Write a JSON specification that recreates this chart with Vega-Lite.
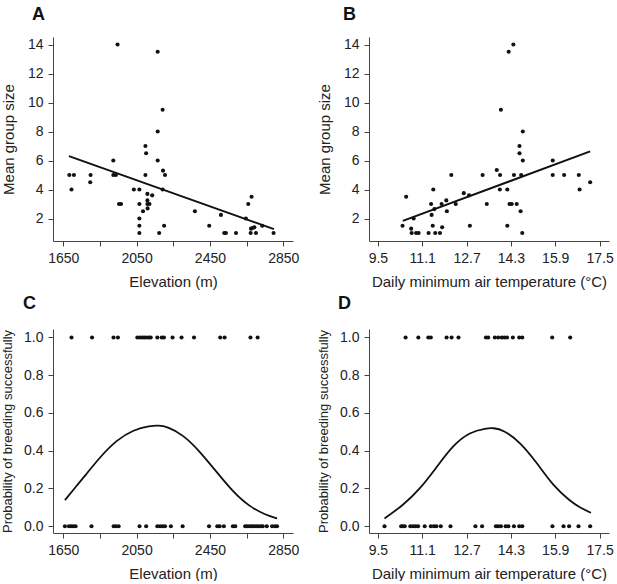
{
  "$schema": "https://vega.github.io/schema/vega-lite/v6.json",
  "padding": {"left": 1, "top": 6, "right": 0, "bottom": 0},
  "config": {
    "view": {"stroke": null},
    "font": "Liberation Sans",
    "axis": {
      "grid": false,
      "domainColor": "#444",
      "tickColor": "#444",
      "labelColor": "#222",
      "titleColor": "#222",
      "labelFont": "Liberation Sans",
      "titleFont": "Liberation Sans",
      "labelFontSize": 14,
      "titleFontSize": 15,
      "titleFontWeight": "normal",
      "tickSize": 5,
      "labelPadding": 5,
      "labelOverlap": false,
      "labelFlush": false
    },
    "axisY": {"minExtent": 32, "maxExtent": 32, "titlePadding": 5},
    "axisX": {"titlePadding": 9},
    "title": {"font": "Liberation Sans", "fontSize": 18, "fontWeight": "bold", "color": "#111", "anchor": "start", "frame": "group"}
  },
  "datasets": {
    "groupElev": [
      {"elevation": 1683, "size": 5}, {"elevation": 1708, "size": 5}, {"elevation": 1695, "size": 4},
      {"elevation": 1799, "size": 5}, {"elevation": 1797, "size": 4.5}, {"elevation": 1923, "size": 6},
      {"elevation": 1923, "size": 5}, {"elevation": 1937, "size": 5}, {"elevation": 1946, "size": 14},
      {"elevation": 1954, "size": 3}, {"elevation": 1965, "size": 3}, {"elevation": 2035, "size": 4},
      {"elevation": 2065, "size": 4}, {"elevation": 2065, "size": 3}, {"elevation": 2065, "size": 2},
      {"elevation": 2065, "size": 1.5}, {"elevation": 2065, "size": 1}, {"elevation": 2085, "size": 2.5},
      {"elevation": 2098, "size": 7}, {"elevation": 2102, "size": 6.5}, {"elevation": 2098, "size": 5},
      {"elevation": 2109, "size": 3.7}, {"elevation": 2109, "size": 3.25}, {"elevation": 2109, "size": 3},
      {"elevation": 2110, "size": 2.7}, {"elevation": 2120, "size": 3}, {"elevation": 2135, "size": 3.6},
      {"elevation": 2165, "size": 13.5}, {"elevation": 2165, "size": 8}, {"elevation": 2165, "size": 6},
      {"elevation": 2173, "size": 1}, {"elevation": 2192, "size": 9.5}, {"elevation": 2194, "size": 5.3},
      {"elevation": 2192, "size": 4}, {"elevation": 2200, "size": 1.5}, {"elevation": 2205, "size": 5},
      {"elevation": 2368, "size": 2.5}, {"elevation": 2446, "size": 1.5}, {"elevation": 2510, "size": 2.25},
      {"elevation": 2528, "size": 1}, {"elevation": 2537, "size": 1}, {"elevation": 2592, "size": 1},
      {"elevation": 2646, "size": 2}, {"elevation": 2659, "size": 3}, {"elevation": 2677, "size": 3.5},
      {"elevation": 2674, "size": 1.3}, {"elevation": 2672, "size": 1}, {"elevation": 2683, "size": 1.35},
      {"elevation": 2692, "size": 1.4}, {"elevation": 2701, "size": 1}, {"elevation": 2735, "size": 1.5},
      {"elevation": 2797, "size": 1}
    ],
    "lineElev": [
      {"elevation": 1681, "size": 6.3}, {"elevation": 2799, "size": 1.27}
    ],
    "groupTemp": [
      {"temperature": 10.39, "size": 1.5}, {"temperature": 10.52, "size": 3.5}, {"temperature": 10.70, "size": 1.3},
      {"temperature": 10.72, "size": 1}, {"temperature": 10.79, "size": 2}, {"temperature": 10.88, "size": 1},
      {"temperature": 10.97, "size": 1}, {"temperature": 11.33, "size": 1}, {"temperature": 11.42, "size": 3},
      {"temperature": 11.44, "size": 2.25}, {"temperature": 11.50, "size": 4}, {"temperature": 11.48, "size": 1.5},
      {"temperature": 11.54, "size": 2.65}, {"temperature": 11.57, "size": 1}, {"temperature": 11.74, "size": 1},
      {"temperature": 11.80, "size": 3}, {"temperature": 11.82, "size": 1.4}, {"temperature": 11.97, "size": 3.25},
      {"temperature": 11.99, "size": 2.5}, {"temperature": 12.15, "size": 5}, {"temperature": 12.31, "size": 3},
      {"temperature": 12.60, "size": 3.75}, {"temperature": 12.79, "size": 3.6}, {"temperature": 12.82, "size": 1.5},
      {"temperature": 13.28, "size": 5}, {"temperature": 13.43, "size": 3}, {"temperature": 13.79, "size": 5.35},
      {"temperature": 13.91, "size": 5}, {"temperature": 13.90, "size": 4}, {"temperature": 13.94, "size": 9.5},
      {"temperature": 14.17, "size": 4}, {"temperature": 14.17, "size": 1.5}, {"temperature": 14.22, "size": 13.5},
      {"temperature": 14.25, "size": 3}, {"temperature": 14.33, "size": 3}, {"temperature": 14.39, "size": 14},
      {"temperature": 14.41, "size": 5}, {"temperature": 14.51, "size": 3}, {"temperature": 14.61, "size": 7},
      {"temperature": 14.61, "size": 6.5}, {"temperature": 14.65, "size": 2.5}, {"temperature": 14.67, "size": 5},
      {"temperature": 14.73, "size": 8}, {"temperature": 14.73, "size": 6}, {"temperature": 14.71, "size": 1},
      {"temperature": 15.81, "size": 6}, {"temperature": 15.81, "size": 5}, {"temperature": 16.22, "size": 5},
      {"temperature": 16.75, "size": 5}, {"temperature": 16.78, "size": 4}, {"temperature": 17.16, "size": 4.5}
    ],
    "lineTemp": [
      {"temperature": 10.40, "size": 1.84}, {"temperature": 17.16, "size": 6.63}
    ],
    "breedElev": [
      {"elevation": 1695, "p": 1}, {"elevation": 1807, "p": 1}, {"elevation": 1924, "p": 1}, {"elevation": 1948, "p": 1},
      {"elevation": 2054, "p": 1}, {"elevation": 2069, "p": 1}, {"elevation": 2081, "p": 1}, {"elevation": 2092, "p": 1},
      {"elevation": 2105, "p": 1}, {"elevation": 2118, "p": 1}, {"elevation": 2127, "p": 1}, {"elevation": 2163, "p": 1},
      {"elevation": 2187, "p": 1}, {"elevation": 2199, "p": 1}, {"elevation": 2246, "p": 1}, {"elevation": 2295, "p": 1},
      {"elevation": 2363, "p": 1}, {"elevation": 2506, "p": 1}, {"elevation": 2530, "p": 1}, {"elevation": 2671, "p": 1},
      {"elevation": 2710, "p": 1},
      {"elevation": 1659, "p": 0}, {"elevation": 1681, "p": 0}, {"elevation": 1693, "p": 0}, {"elevation": 1704, "p": 0},
      {"elevation": 1717, "p": 0}, {"elevation": 1804, "p": 0}, {"elevation": 1925, "p": 0}, {"elevation": 1937, "p": 0},
      {"elevation": 1952, "p": 0}, {"elevation": 2066, "p": 0}, {"elevation": 2102, "p": 0}, {"elevation": 2163, "p": 0},
      {"elevation": 2178, "p": 0}, {"elevation": 2192, "p": 0}, {"elevation": 2205, "p": 0}, {"elevation": 2237, "p": 0},
      {"elevation": 2301, "p": 0}, {"elevation": 2445, "p": 0}, {"elevation": 2490, "p": 0}, {"elevation": 2503, "p": 0},
      {"elevation": 2526, "p": 0}, {"elevation": 2575, "p": 0}, {"elevation": 2588, "p": 0}, {"elevation": 2642, "p": 0},
      {"elevation": 2653, "p": 0}, {"elevation": 2666, "p": 0}, {"elevation": 2678, "p": 0}, {"elevation": 2689, "p": 0},
      {"elevation": 2702, "p": 0}, {"elevation": 2714, "p": 0}, {"elevation": 2728, "p": 0}, {"elevation": 2738, "p": 0},
      {"elevation": 2760, "p": 0}, {"elevation": 2789, "p": 0}, {"elevation": 2805, "p": 0}, {"elevation": 2816, "p": 0}
    ],
    "curveElev": [
      {"elevation": 1659, "p": 0.138}, {"elevation": 1726, "p": 0.218}, {"elevation": 1762, "p": 0.259},
      {"elevation": 1852, "p": 0.369}, {"elevation": 1943, "p": 0.458}, {"elevation": 2033, "p": 0.511},
      {"elevation": 2123, "p": 0.532}, {"elevation": 2170, "p": 0.534}, {"elevation": 2214, "p": 0.529},
      {"elevation": 2304, "p": 0.485}, {"elevation": 2395, "p": 0.396}, {"elevation": 2485, "p": 0.289},
      {"elevation": 2575, "p": 0.183}, {"elevation": 2666, "p": 0.103}, {"elevation": 2756, "p": 0.059},
      {"elevation": 2816, "p": 0.041}
    ],
    "breedTemp": [
      {"temperature": 10.50, "p": 1}, {"temperature": 10.96, "p": 1}, {"temperature": 11.32, "p": 1}, {"temperature": 11.41, "p": 1},
      {"temperature": 11.98, "p": 1}, {"temperature": 12.16, "p": 1}, {"temperature": 12.41, "p": 1}, {"temperature": 13.40, "p": 1},
      {"temperature": 13.48, "p": 1}, {"temperature": 13.72, "p": 1}, {"temperature": 13.84, "p": 1}, {"temperature": 13.97, "p": 1},
      {"temperature": 14.06, "p": 1}, {"temperature": 14.16, "p": 1}, {"temperature": 14.37, "p": 1}, {"temperature": 14.60, "p": 1},
      {"temperature": 14.71, "p": 1}, {"temperature": 15.79, "p": 1}, {"temperature": 16.44, "p": 1},
      {"temperature": 9.74, "p": 0}, {"temperature": 10.34, "p": 0}, {"temperature": 10.40, "p": 0}, {"temperature": 10.47, "p": 0},
      {"temperature": 10.67, "p": 0}, {"temperature": 10.77, "p": 0}, {"temperature": 10.86, "p": 0}, {"temperature": 10.95, "p": 0},
      {"temperature": 11.19, "p": 0}, {"temperature": 11.41, "p": 0}, {"temperature": 11.52, "p": 0}, {"temperature": 11.61, "p": 0},
      {"temperature": 11.77, "p": 0}, {"temperature": 12.12, "p": 0}, {"temperature": 13.02, "p": 0}, {"temperature": 13.26, "p": 0},
      {"temperature": 13.76, "p": 0}, {"temperature": 13.84, "p": 0}, {"temperature": 13.94, "p": 0}, {"temperature": 14.11, "p": 0},
      {"temperature": 14.21, "p": 0}, {"temperature": 14.41, "p": 0}, {"temperature": 14.60, "p": 0}, {"temperature": 14.71, "p": 0},
      {"temperature": 15.80, "p": 0}, {"temperature": 16.20, "p": 0}, {"temperature": 16.40, "p": 0}, {"temperature": 16.74, "p": 0},
      {"temperature": 17.16, "p": 0}
    ],
    "curveTemp": [
      {"temperature": 9.74, "p": 0.041}, {"temperature": 10.40, "p": 0.110}, {"temperature": 11.01, "p": 0.195},
      {"temperature": 11.61, "p": 0.311}, {"temperature": 12.21, "p": 0.430}, {"temperature": 12.82, "p": 0.500},
      {"temperature": 13.42, "p": 0.519}, {"temperature": 13.66, "p": 0.521}, {"temperature": 14.02, "p": 0.511},
      {"temperature": 14.63, "p": 0.447}, {"temperature": 15.23, "p": 0.337}, {"temperature": 15.83, "p": 0.213},
      {"temperature": 16.44, "p": 0.133}, {"temperature": 16.80, "p": 0.098}, {"temperature": 17.19, "p": 0.071}
    ]
  },
  "columns": 2,
  "spacing": {"row": 6, "column": 18},
  "concat": [
    {
      "title": {"text": "A", "dx": -21, "offset": 13},
      "width": 240,
      "height": 204,
      "layer": [
        {
          "data": {"name": "groupElev"},
          "mark": {"type": "circle", "size": 17, "opacity": 1, "color": "#111"},
          "encoding": {
            "x": {"field": "elevation", "type": "quantitative", "scale": {"domain": [1594, 2903], "nice": false, "zero": false},
                  "axis": {"title": "Elevation (m)", "values": [1650, 1850, 2050, 2250, 2450, 2650, 2850], "tickCount": 20, "format": "d", "labelExpr": "datum.value % 400 == 50 ? datum.label : ''"}},
            "y": {"field": "size", "type": "quantitative", "scale": {"domain": [0.45, 14.52], "nice": false, "zero": false},
                  "axis": {"title": "Mean group size", "values": [2, 4, 6, 8, 10, 12, 14], "tickCount": 20, "format": "d"}}
          }
        },
        {
          "data": {"name": "lineElev"},
          "mark": {"type": "line", "color": "#111", "strokeWidth": 2},
          "encoding": {
            "x": {"field": "elevation", "type": "quantitative"},
            "y": {"field": "size", "type": "quantitative"}
          }
        }
      ]
    },
    {
      "title": {"text": "B", "dx": -26, "offset": 13},
      "width": 240,
      "height": 204,
      "layer": [
        {
          "data": {"name": "groupTemp"},
          "mark": {"type": "circle", "size": 17, "opacity": 1, "color": "#111"},
          "encoding": {
            "x": {"field": "temperature", "type": "quantitative", "scale": {"domain": [9.18, 17.84], "nice": false, "zero": false},
                  "axis": {"title": "Daily minimum air temperature (°C)", "values": [9.5, 11.1, 12.7, 14.3, 15.9, 17.5], "tickCount": 20, "format": ".1f"}},
            "y": {"field": "size", "type": "quantitative", "scale": {"domain": [0.45, 14.52], "nice": false, "zero": false},
                  "axis": {"title": "Mean group size", "values": [2, 4, 6, 8, 10, 12, 14], "tickCount": 20, "format": "d"}}
          }
        },
        {
          "data": {"name": "lineTemp"},
          "mark": {"type": "line", "color": "#111", "strokeWidth": 2},
          "encoding": {
            "x": {"field": "temperature", "type": "quantitative"},
            "y": {"field": "size", "type": "quantitative"}
          }
        }
      ]
    },
    {
      "title": {"text": "C", "dx": -30, "offset": 16},
      "width": 240,
      "height": 204,
      "layer": [
        {
          "data": {"name": "breedElev"},
          "mark": {"type": "circle", "size": 17, "opacity": 1, "color": "#111"},
          "encoding": {
            "x": {"field": "elevation", "type": "quantitative", "scale": {"domain": [1594, 2903], "nice": false, "zero": false},
                  "axis": {"title": "Elevation (m)", "values": [1650, 1850, 2050, 2250, 2450, 2650, 2850], "tickCount": 20, "format": "d", "labelExpr": "datum.value % 400 == 50 ? datum.label : ''"}},
            "y": {"field": "p", "type": "quantitative", "scale": {"domain": [-0.036, 1.045], "nice": false, "zero": false},
                  "axis": {"title": "Probability of breeding successfully", "values": [0, 0.2, 0.4, 0.6, 0.8, 1], "tickCount": 20, "format": ".1f", "titleFontSize": 13, "titlePadding": 7}}
          }
        },
        {
          "data": {"name": "curveElev"},
          "mark": {"type": "line", "color": "#111", "strokeWidth": 1.8, "interpolate": "basis"},
          "encoding": {
            "x": {"field": "elevation", "type": "quantitative"},
            "y": {"field": "p", "type": "quantitative"}
          }
        }
      ]
    },
    {
      "title": {"text": "D", "dx": -31, "offset": 16},
      "width": 240,
      "height": 204,
      "layer": [
        {
          "data": {"name": "breedTemp"},
          "mark": {"type": "circle", "size": 17, "opacity": 1, "color": "#111"},
          "encoding": {
            "x": {"field": "temperature", "type": "quantitative", "scale": {"domain": [9.18, 17.84], "nice": false, "zero": false},
                  "axis": {"title": "Daily minimum air temperature (°C)", "values": [9.5, 11.1, 12.7, 14.3, 15.9, 17.5], "tickCount": 20, "format": ".1f"}},
            "y": {"field": "p", "type": "quantitative", "scale": {"domain": [-0.036, 1.045], "nice": false, "zero": false},
                  "axis": {"title": "Probability of breeding successfully", "values": [0, 0.2, 0.4, 0.6, 0.8, 1], "tickCount": 20, "format": ".1f", "titleFontSize": 13, "titlePadding": 7}}
          }
        },
        {
          "data": {"name": "curveTemp"},
          "mark": {"type": "line", "color": "#111", "strokeWidth": 1.8, "interpolate": "basis"},
          "encoding": {
            "x": {"field": "temperature", "type": "quantitative"},
            "y": {"field": "p", "type": "quantitative"}
          }
        }
      ]
    }
  ]
}
